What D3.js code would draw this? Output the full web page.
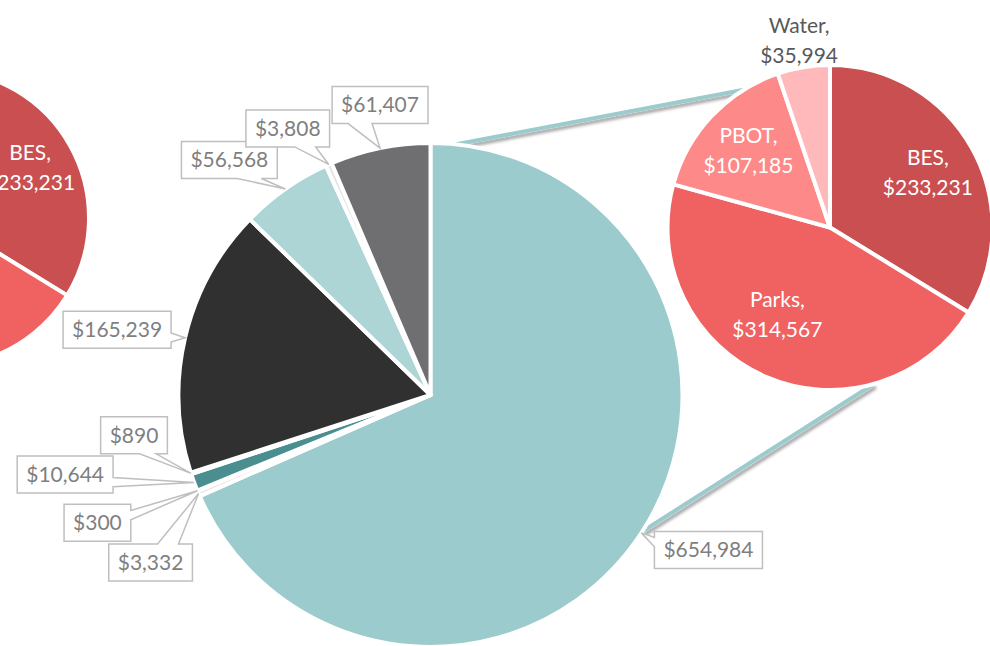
<!DOCTYPE html>
<html>
<head>
<meta charset="utf-8">
<script src="https://cdn.jsdelivr.net/npm/d3@7"></script>
<style>
    body { margin: 0; background: #fff; }
    svg { display: block; font-family: Lato, 'Open Sans', sans-serif; }
</style>
</head>
<body>
<svg id="chart" width="990" height="646"></svg>
<script>
/**
 * Data.
 */
const mainValues = [654984, 3332, 300, 10644, 890, 165239, 56568, 3808, 61407];
const detailNames = ['BES', 'Parks', 'PBOT', 'Water'];
const detailValues = [233231, 314567, 107185, 35994];

/**
 * Visual configs.
 */
const mainColors = ['#9bcbcc', '#e2e2e2', '#eaeaea', '#4a8e8f', '#cccccc', '#303030', '#aed5d6', '#e4e4e4', '#6f6f71'];
const detailColors = ['#c94f51', '#f06161', '#fe8989', '#ffb9bb'];
// Callout box centre, relative to the outer mid point of its slice
const calloutOffsets = [[67, 17], [-48, 69], [-100, 32], [-129, -8], [-57, -38], [-68, -8], [-56, -29], [-41, -36], [0, -43]];
// Small manual nudges of the detail labels
const labelNudge = { Parks: [-8, -16] };

const mainCenter = [430.5, 395], mainRadius = 252;
const detailCenter = [830, 227.5], detailRadius = 162.5;
const ghostCenter = [-59, 218], ghostRadius = 148; // cut-off copy at the left edge
// Connector lines: [angle on main pie, angle on detail pie], degrees
const connectors = [[5.9, 328], [122.8, 164.4]];

const fmt = d3.format('$,');
const rad = d => d * Math.PI / 180;
const pointAt = (c, r, a) => [c[0] + r * Math.sin(a), c[1] - r * Math.cos(a)];

const svg = d3.select('#chart');

/**
 * Shadow for the connector lines.
 */
svg.append('defs').append('filter')
    .attr('id', 'shadow')
    .attr('x', '-10%').attr('y', '-10%').attr('width', '120%').attr('height', '140%')
    .append('feDropShadow')
        .attr('dx', 2).attr('dy', 3)
        .attr('stdDeviation', 1.6)
        .attr('flood-color', '#000')
        .attr('flood-opacity', 0.35);

const pie = d3.pie().sort(null).value(d => d);
const mainArcs = pie(mainValues);
const detailArcs = pie(detailValues);

/**
 * Connectors.
 */
svg.append('g').attr('class', 'connectors')
    .selectAll('line')
    .data(connectors)
    .join('line')
        .attr('x1', d => pointAt(mainCenter, mainRadius, rad(d[0]))[0])
        .attr('y1', d => pointAt(mainCenter, mainRadius, rad(d[0]))[1])
        .attr('x2', d => pointAt(detailCenter, detailRadius, rad(d[1]))[0])
        .attr('y2', d => pointAt(detailCenter, detailRadius, rad(d[1]))[1])
        .attr('stroke', '#9bcbcc')
        .attr('stroke-width', 4)
        .attr('filter', 'url(#shadow)');

/**
 * Pies.
 */
function drawPie(cls, center, radius, arcs, colors) {
    const arc = d3.arc().innerRadius(0).outerRadius(radius);
    return svg.append('g')
        .attr('class', cls)
        .attr('transform', `translate(${center[0]},${center[1]})`)
        .selectAll('path')
        .data(arcs)
        .join('path')
            .attr('d', arc)
            .attr('fill', (d, i) => colors[i])
            .attr('stroke', '#fff')
            .attr('stroke-width', 4)
            .attr('stroke-linejoin', 'round');
}

drawPie('ghost-pie', ghostCenter, ghostRadius, detailArcs, detailColors);
drawPie('main-pie', mainCenter, mainRadius, mainArcs, mainColors);
drawPie('detail-pie', detailCenter, detailRadius, detailArcs, detailColors);

/**
 * Two line labels of the detail pies.
 */
function drawDetailLabels(center, radius) {
    const k = radius / detailRadius;
    const g = svg.append('g').attr('class', 'detail-labels').attr('font-size', 21);
    detailArcs.forEach((d, i) => {
        const name = detailNames[i];
        const mid = (d.startAngle + d.endAngle) / 2;
        const outside = name === 'Water';
        const r = outside ? radius + 27 * k : radius * 0.69;
        let [x, y] = pointAt(center, r, mid);
        const n = labelNudge[name];
        if (n) { x += n[0] * k; y += n[1] * k; }
        if (x < 0) return; // label lies fully outside the picture
        const t = g.append('text')
            .attr('text-anchor', 'middle')
            .attr('fill', outside ? '#595959' : '#fff');
        t.append('tspan').attr('x', x).attr('y', y - 15).attr('dy', '0.35em').text(name + ',');
        t.append('tspan').attr('x', x).attr('y', y + 15).attr('dy', '0.35em').text(fmt(detailValues[i]));
    });
}

drawDetailLabels(ghostCenter, ghostRadius);
drawDetailLabels(detailCenter, detailRadius);

/**
 * Callouts of the main pie (Excel style wedge rectangle).
 */
function calloutPath(x, y, w, h, tx, ty) {
    const dxPos = tx - (x + w / 2), dyPos = ty - (y + h / 2);
    const x1 = x + w * (dxPos > 0 ? 7 : 2) / 12, x2 = x + w * (dxPos > 0 ? 10 : 5) / 12;
    const y1 = y + h * (dyPos > 0 ? 7 : 2) / 12, y2 = y + h * (dyPos > 0 ? 10 : 5) / 12;
    const p = d3.path();
    p.moveTo(x, y);
    if (Math.abs(dyPos * w) > Math.abs(dxPos * h)) {
        if (dyPos < 0) { p.lineTo(x1, y); p.lineTo(tx, ty); p.lineTo(x2, y); }
        p.lineTo(x + w, y);
        p.lineTo(x + w, y + h);
        if (dyPos > 0) { p.lineTo(x2, y + h); p.lineTo(tx, ty); p.lineTo(x1, y + h); }
        p.lineTo(x, y + h);
    } else {
        p.lineTo(x + w, y);
        if (dxPos > 0) { p.lineTo(x + w, y1); p.lineTo(tx, ty); p.lineTo(x + w, y2); }
        p.lineTo(x + w, y + h);
        p.lineTo(x, y + h);
        if (dxPos < 0) { p.lineTo(x, y2); p.lineTo(tx, ty); p.lineTo(x, y1); }
    }
    p.closePath();
    return p.toString();
}

const callouts = svg.append('g').attr('class', 'callouts').attr('font-size', 21);
mainArcs.forEach((d, i) => {
    const [ax, ay] = pointAt(mainCenter, mainRadius, (d.startAngle + d.endAngle) / 2);
    const cx = ax + calloutOffsets[i][0], cy = ay + calloutOffsets[i][1];
    const g = callouts.append('g');
    const box = g.append('path');
    const text = g.append('text')
        .attr('x', cx).attr('y', cy).attr('dy', '0.35em')
        .attr('text-anchor', 'middle')
        .attr('fill', '#7f7f7f')
        .text(fmt(d.data));
    const w = text.node().getComputedTextLength() + 18, h = 37;
    box.attr('d', calloutPath(cx - w / 2, cy - h / 2, w, h, ax, ay))
        .attr('fill', '#fff')
        .attr('stroke', '#bfbfbf')
        .attr('stroke-width', 1.5)
        .attr('stroke-linejoin', 'miter');
});
</script>
</body>
</html>
